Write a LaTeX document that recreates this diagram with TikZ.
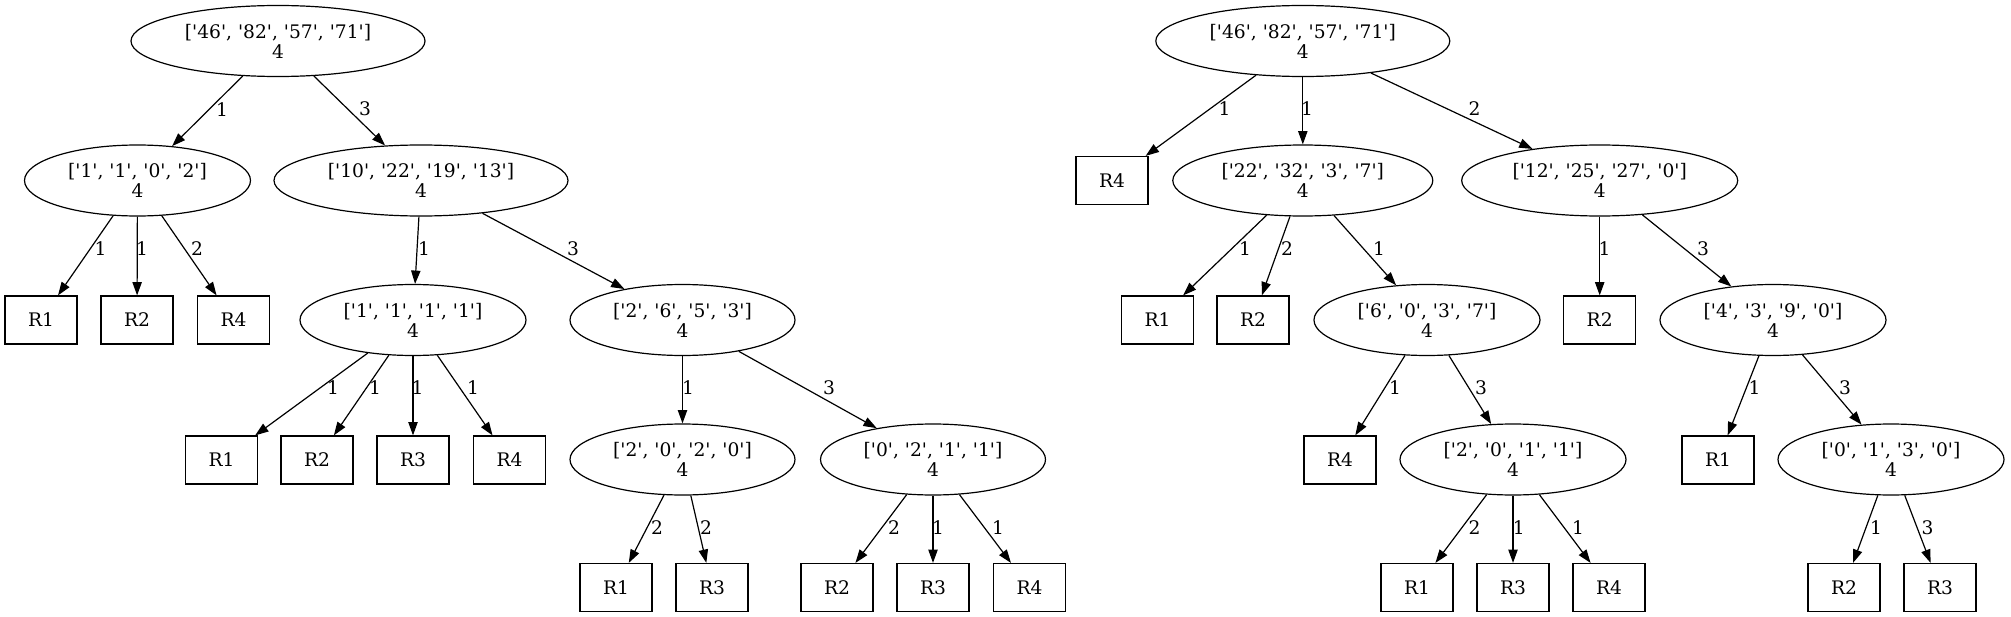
\documentclass[tikz,border=0pt]{standalone}
\usepackage{fontspec}
\setmainfont{DejaVu Serif}
\usetikzlibrary{shapes.geometric,arrows.meta}
\newcommand{\qv}[1]{\textquotesingle#1\textquotesingle}
\tikzset{
  every node/.style={font=\fontsize{14pt}{15pt}\selectfont},
  ell/.style={ellipse, draw, line width=0.9pt, inner sep=0pt, minimum height=53.25pt, align=center},
  leaf/.style={rectangle, draw, line width=0.9pt, minimum width=54pt, minimum height=36pt, inner sep=0pt},
  edge/.style={draw, line width=0.9pt, -{Triangle[length=10pt,width=7pt]}},
  elab/.style={inner sep=0pt}
}
\begin{document}
\begin{tikzpicture}[x=0.75pt, y=-0.75pt]
\useasboundingbox (0,0) rectangle (2011,617);
% ---------- left tree ----------
\node[ell, minimum width=220.5pt] (A0) at (278,41) {[\qv{46}, \qv{82}, \qv{57}, \qv{71}]\\4};
\node[ell, minimum width=169.5pt] (A1) at (137.5,180.5) {[\qv{1}, \qv{1}, \qv{0}, \qv{2}]\\4};
\node[ell, minimum width=220.5pt] (A2) at (421,180.5) {[\qv{10}, \qv{22}, \qv{19}, \qv{13}]\\4};
\node[leaf] (A1a) at (41,320) {R1};
\node[leaf] (A1b) at (137,320) {R2};
\node[leaf] (A1c) at (233.5,320) {R4};
\node[ell, minimum width=169.5pt] (A3) at (413,320) {[\qv{1}, \qv{1}, \qv{1}, \qv{1}]\\4};
\node[ell, minimum width=168.75pt] (A4) at (682.5,320) {[\qv{2}, \qv{6}, \qv{5}, \qv{3}]\\4};
\node[leaf] (A3a) at (221.5,460) {R1};
\node[leaf] (A3b) at (317,460) {R2};
\node[leaf] (A3c) at (413,460) {R3};
\node[leaf] (A3d) at (509.5,460) {R4};
\node[ell, minimum width=168.75pt] (A5) at (682.5,459.5) {[\qv{2}, \qv{0}, \qv{2}, \qv{0}]\\4};
\node[ell, minimum width=168.75pt] (A6) at (933,459.5) {[\qv{0}, \qv{2}, \qv{1}, \qv{1}]\\4};
\node[leaf] (A5a) at (616,587.5) {R1};
\node[leaf] (A5b) at (712,587.5) {R3};
\node[leaf] (A6a) at (837,587.5) {R2};
\node[leaf] (A6b) at (933,587.5) {R3};
\node[leaf] (A6c) at (1029.5,587.5) {R4};
\draw[edge] (A0) -- (A1);
\draw[edge] (A0) -- (A2);
\draw[edge] (A1) -- (A1a);
\draw[edge] (A1) -- (A1b);
\draw[edge] (A1) -- (A1c);
\draw[edge] (A2) -- (A3);
\draw[edge] (A2) -- (A4);
\draw[edge] (A3) -- (A3a);
\draw[edge] (A3) -- (A3b);
\draw[edge] (A3) -- (A3c);
\draw[edge] (A3) -- (A3d);
\draw[edge] (A4) -- (A5);
\draw[edge] (A4) -- (A6);
\draw[edge] (A5) -- (A5a);
\draw[edge] (A5) -- (A5b);
\draw[edge] (A6) -- (A6a);
\draw[edge] (A6) -- (A6b);
\draw[edge] (A6) -- (A6c);
\node[elab] (la1) at (222,110) {1};
\node[elab] (la2) at (365,109) {3};
\node[elab] (la3) at (100.6,249) {1};
\node[elab] (la4) at (142,249) {1};
\node[elab] (la5) at (197,249) {2};
\node[elab] (la6) at (424,249) {1};
\node[elab] (la7) at (573,249) {3};
\node[elab] (la8) at (333,388) {1};
\node[elab] (la9) at (375,388) {1};
\node[elab] (la10) at (417.6,388) {1};
\node[elab] (la11) at (473,388) {1};
\node[elab] (la12) at (688,388) {1};
\node[elab] (la13) at (829,388) {3};
\node[elab] (la14) at (657,528) {2};
\node[elab] (la15) at (706,528) {2};
\node[elab] (la16) at (894,528) {2};
\node[elab] (la17) at (938,528) {1};
\node[elab] (la18) at (998,528) {1};
% ---------- right tree ----------
\node[ell, minimum width=220.5pt] (B0) at (1302.8,41) {[\qv{46}, \qv{82}, \qv{57}, \qv{71}]\\4};
\node[leaf] (B0a) at (1112,180.5) {R4};
\node[ell, minimum width=195pt] (B1) at (1302.8,180.5) {[\qv{22}, \qv{32}, \qv{3}, \qv{7}]\\4};
\node[ell, minimum width=207pt] (B2) at (1599.7,180.5) {[\qv{12}, \qv{25}, \qv{27}, \qv{0}]\\4};
\node[leaf] (B1a) at (1157.5,320) {R1};
\node[leaf] (B1b) at (1253,320) {R2};
\node[ell, minimum width=169.5pt] (B3) at (1427,320) {[\qv{6}, \qv{0}, \qv{3}, \qv{7}]\\4};
\node[leaf] (B2a) at (1599.7,320) {R2};
\node[ell, minimum width=169.5pt] (B4) at (1773,320) {[\qv{4}, \qv{3}, \qv{9}, \qv{0}]\\4};
\node[leaf] (B3a) at (1340,460) {R4};
\node[ell, minimum width=169.5pt] (B5) at (1513,459.5) {[\qv{2}, \qv{0}, \qv{1}, \qv{1}]\\4};
\node[leaf] (B4a) at (1718,460) {R1};
\node[ell, minimum width=169.5pt] (B6) at (1891,459.5) {[\qv{0}, \qv{1}, \qv{3}, \qv{0}]\\4};
\node[leaf] (B5a) at (1417,587.5) {R1};
\node[leaf] (B5b) at (1513,587.5) {R3};
\node[leaf] (B5c) at (1609,587.5) {R4};
\node[leaf] (B6a) at (1844,587.5) {R2};
\node[leaf] (B6b) at (1940,587.5) {R3};
\draw[edge] (B0) -- (B0a);
\draw[edge] (B0) -- (B1);
\draw[edge] (B0) -- (B2);
\draw[edge] (B1) -- (B1a);
\draw[edge] (B1) -- (B1b);
\draw[edge] (B1) -- (B3);
\draw[edge] (B2) -- (B2a);
\draw[edge] (B2) -- (B4);
\draw[edge] (B3) -- (B3a);
\draw[edge] (B3) -- (B5);
\draw[edge] (B4) -- (B4a);
\draw[edge] (B4) -- (B6);
\draw[edge] (B5) -- (B5a);
\draw[edge] (B5) -- (B5b);
\draw[edge] (B5) -- (B5c);
\draw[edge] (B6) -- (B6a);
\draw[edge] (B6) -- (B6b);
\node[elab] (lb1) at (1224.6,109) {1};
\node[elab] (lb2) at (1307,109) {1};
\node[elab] (lb3) at (1474.6,109) {2};
\node[elab] (lb4) at (1245,249) {1};
\node[elab] (lb5) at (1287,249) {2};
\node[elab] (lb6) at (1379,249) {1};
\node[elab] (lb7) at (1604.5,249) {1};
\node[elab] (lb8) at (1703,249) {3};
\node[elab] (lb9) at (1395,388) {1};
\node[elab] (lb10) at (1481,388) {3};
\node[elab] (lb11) at (1754.6,388) {1};
\node[elab] (lb12) at (1845,388) {3};
\node[elab] (lb13) at (1474.6,528) {2};
\node[elab] (lb14) at (1518.7,528) {1};
\node[elab] (lb15) at (1578,528) {1};
\node[elab] (lb16) at (1876,528) {1};
\node[elab] (lb17) at (1927.5,528) {3};
\end{tikzpicture}
\end{document}
